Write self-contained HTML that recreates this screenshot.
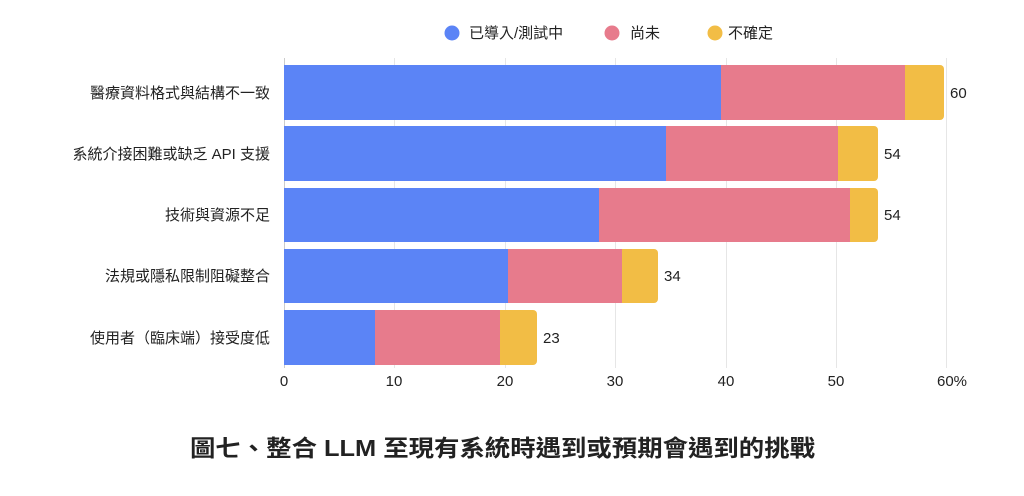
<!DOCTYPE html>
<html><head><meta charset="utf-8"><style>
body{margin:0;background:#fff;}
text{font-family:"Liberation Sans","Noto Sans CJK TC",sans-serif;fill:#222;}
</style></head><body>
<svg width="1024" height="491" xmlns="http://www.w3.org/2000/svg">
<g stroke="#e6e6e6" stroke-width="1">
<line x1="394.5" y1="58" x2="394.5" y2="368"/>
<line x1="505.5" y1="58" x2="505.5" y2="368"/>
<line x1="615.5" y1="58" x2="615.5" y2="368"/>
<line x1="726.5" y1="58" x2="726.5" y2="368"/>
<line x1="836.5" y1="58" x2="836.5" y2="368"/>
<line x1="946.5" y1="58" x2="946.5" y2="368"/>
</g>
<line x1="284.5" y1="58" x2="284.5" y2="368" stroke="#ccc"/>
<rect x="284" y="65" width="437" height="55" fill="#5b84f6"/>
<rect x="721" y="65" width="184" height="55" fill="#e77b8c"/>
<path d="M905 65 H940 a4 4 0 0 1 4 4 V116 a4 4 0 0 1 -4 4 H905Z" fill="#f2bd45"/>
<rect x="284" y="126" width="382" height="55" fill="#5b84f6"/>
<rect x="666" y="126" width="172" height="55" fill="#e77b8c"/>
<path d="M838 126 H874 a4 4 0 0 1 4 4 V177 a4 4 0 0 1 -4 4 H838Z" fill="#f2bd45"/>
<rect x="284" y="188" width="315" height="54" fill="#5b84f6"/>
<rect x="599" y="188" width="251" height="54" fill="#e77b8c"/>
<path d="M850 188 H874 a4 4 0 0 1 4 4 V238 a4 4 0 0 1 -4 4 H850Z" fill="#f2bd45"/>
<rect x="284" y="249" width="224" height="54" fill="#5b84f6"/>
<rect x="508" y="249" width="114" height="54" fill="#e77b8c"/>
<path d="M622 249 H654 a4 4 0 0 1 4 4 V299 a4 4 0 0 1 -4 4 H622Z" fill="#f2bd45"/>
<rect x="284" y="310" width="91" height="55" fill="#5b84f6"/>
<rect x="375" y="310" width="125" height="55" fill="#e77b8c"/>
<path d="M500 310 H533 a4 4 0 0 1 4 4 V361 a4 4 0 0 1 -4 4 H500Z" fill="#f2bd45"/>
<g font-size="15">
<text x="950" y="98">60</text>
<text x="884" y="159">54</text>
<text x="884" y="220">54</text>
<text x="664" y="281">34</text>
<text x="543" y="343">23</text>
</g>
<g font-size="15" text-anchor="end">
<text x="270" y="98">醫療資料格式與結構不一致</text>
<text x="270" y="159">系統介接困難或缺乏 API 支援</text>
<text x="270" y="220">技術與資源不足</text>
<text x="270" y="281">法規或隱私限制阻礙整合</text>
<text x="270" y="343">使用者（臨床端）接受度低</text>
</g>
<g font-size="15" text-anchor="middle">
<text x="284" y="386">0</text>
<text x="394" y="386">10</text>
<text x="505" y="386">20</text>
<text x="615" y="386">30</text>
<text x="726" y="386">40</text>
<text x="836" y="386">50</text>
<text x="952" y="386">60%</text>
</g>
<circle cx="452" cy="33" r="7.5" fill="#5b84f6"/>
<text x="469" y="38" font-size="15">已導入/測試中</text>
<circle cx="612" cy="33" r="7.5" fill="#e77b8c"/>
<text x="630" y="38" font-size="15">尚未</text>
<circle cx="715" cy="33" r="7.5" fill="#f2bd45"/>
<text x="728" y="38" font-size="15">不確定</text>
<text x="190" y="456" font-size="23" font-weight="bold" textLength="625" lengthAdjust="spacingAndGlyphs">圖七、整合 LLM 至現有系統時遇到或預期會遇到的挑戰</text>
</svg>
</body></html>
